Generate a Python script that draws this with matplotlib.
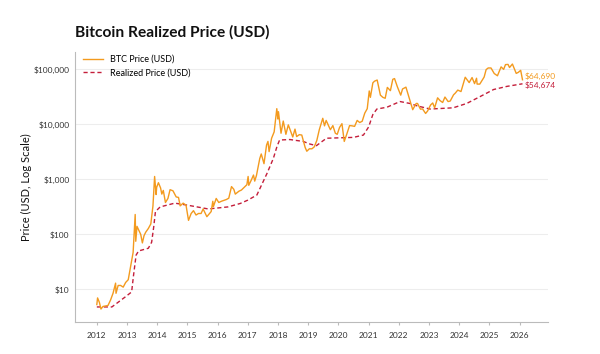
import pandas as pd
import matplotlib.pyplot as plt
import matplotlib.dates as mdates
from matplotlib.ticker import FuncFormatter

plt.rcParams['font.family'] = ['Lato', 'DejaVu Sans']

# BTC price (USD)
btc_dates = [
    '2012-01-01', '2012-01-10', '2012-02-01', '2012-02-20', '2012-03-15', '2012-04-15', '2012-05-15',
    '2012-06-15', '2012-07-15', '2012-08-15', '2012-08-20', '2012-09-15', '2012-10-15', '2012-11-15',
    '2012-12-15', '2013-01-15', '2013-02-15', '2013-03-15', '2013-04-09', '2013-04-16', '2013-05-01',
    '2013-05-20', '2013-06-15', '2013-07-05', '2013-07-25', '2013-08-15', '2013-09-15', '2013-10-15',
    '2013-11-10', '2013-11-30', '2013-12-18', '2013-12-25', '2014-01-15', '2014-02-10', '2014-02-25',
    '2014-03-15', '2014-04-10', '2014-05-10', '2014-06-05', '2014-07-10', '2014-08-18', '2014-09-15',
    '2014-10-05', '2014-11-10', '2014-12-15', '2015-01-14', '2015-02-15', '2015-03-15', '2015-04-15',
    '2015-05-15', '2015-06-15', '2015-07-10', '2015-08-24', '2015-09-15', '2015-10-15', '2015-11-04',
    '2015-11-11', '2015-12-15', '2016-01-15', '2016-02-15', '2016-03-15', '2016-04-15', '2016-05-15',
    '2016-06-17', '2016-07-15', '2016-08-02', '2016-09-15', '2016-10-15', '2016-11-15', '2016-12-20',
    '2017-01-04', '2017-01-12', '2017-02-15', '2017-03-10', '2017-03-25', '2017-04-15', '2017-05-25',
    '2017-06-12', '2017-07-15', '2017-08-15', '2017-09-01', '2017-09-15', '2017-10-15', '2017-11-15',
    '2017-12-17', '2017-12-30', '2018-01-06', '2018-02-06', '2018-03-05', '2018-04-06', '2018-05-05',
    '2018-06-28', '2018-07-25', '2018-08-14', '2018-09-15', '2018-10-15', '2018-11-25', '2018-12-15',
    '2019-01-15', '2019-02-15', '2019-03-15', '2019-04-15', '2019-05-15', '2019-06-26', '2019-07-17',
    '2019-08-06', '2019-09-26', '2019-10-26', '2019-11-25', '2019-12-18', '2020-01-15', '2020-02-13',
    '2020-03-12', '2020-04-15', '2020-05-15', '2020-06-15', '2020-07-15', '2020-08-15', '2020-09-15',
    '2020-10-15', '2020-11-15', '2020-12-15', '2021-01-08', '2021-01-22', '2021-02-21', '2021-03-13',
    '2021-04-14', '2021-05-23', '2021-06-22', '2021-07-20', '2021-08-15', '2021-09-21', '2021-10-20',
    '2021-11-10', '2021-12-15', '2022-01-24', '2022-02-15', '2022-03-28', '2022-05-12', '2022-06-18',
    '2022-07-30', '2022-08-15', '2022-09-20', '2022-10-15', '2022-11-21', '2022-12-15', '2023-01-20',
    '2023-02-15', '2023-03-10', '2023-04-15', '2023-05-15', '2023-06-15', '2023-07-13', '2023-08-20',
    '2023-09-15', '2023-10-25', '2023-11-15', '2023-12-15', '2024-01-23', '2024-02-15', '2024-03-14',
    '2024-05-01', '2024-06-05', '2024-07-05', '2024-07-29', '2024-08-05', '2024-09-06', '2024-10-29',
    '2024-11-22', '2024-12-17', '2025-01-20', '2025-02-28', '2025-04-08', '2025-05-22', '2025-06-22',
    '2025-07-14', '2025-08-14', '2025-09-01', '2025-10-06', '2025-11-21', '2025-12-15', '2026-01-14',
    '2026-02-05',
]
btc_price = [
    5.3, 7.0, 5.8, 4.4, 4.9, 5.0, 5.1,
    6.4, 8.5, 13.0, 8.5, 11.8, 11.8, 11.0,
    13.4, 15, 27, 47, 230, 75, 140,
    122, 100, 70, 95, 110, 128, 155,
    330, 1130, 530, 720, 870, 700, 540,
    630, 380, 450, 650, 620, 480, 470,
    330, 370, 340, 180, 240, 270, 225,
    240, 240, 290, 210, 230, 260, 400,
    320, 450, 380, 400, 415, 430, 455,
    740, 660, 540, 610, 640, 710, 800,
    1130, 780, 1000, 1200, 930, 1180, 2400,
    2900, 1930, 4200, 4900, 3200, 5600, 7300,
    19300, 12500, 17000, 6900, 11500, 6600, 9800,
    5900, 8200, 6000, 6500, 6400, 3800, 3250,
    3600, 3600, 3900, 5100, 8000, 12900, 9400,
    11800, 8000, 9500, 6900, 6600, 8800, 10300,
    4900, 6900, 9500, 9400, 9200, 11800, 10800,
    11400, 16000, 19300, 40500, 31000, 57000, 61000,
    64000, 34000, 31000, 29800, 47000, 41000, 66000,
    68000, 48000, 34000, 44000, 47500, 28500, 18500,
    24000, 24000, 18900, 19100, 15800, 17500, 22500,
    24500, 20000, 30400, 27000, 25000, 31400, 26000,
    26600, 34500, 37000, 42000, 39500, 52000, 72000,
    57500, 71000, 55000, 69000, 54000, 53900, 72500,
    99000, 106000, 106000, 84000, 76500, 111000, 100000,
    122000, 123000, 108000, 125000, 84500, 88000, 96000,
    64690,
]

# Realized price (USD)
rp_dates = [
    '2012-01-01', '2012-07-01', '2012-12-10', '2013-02-25', '2013-03-20', '2013-04-20', '2013-05-20',
    '2013-09-15', '2013-10-25', '2013-11-20', '2013-12-10', '2014-02-05', '2014-08-01', '2015-01-01',
    '2015-09-10', '2016-05-05', '2016-10-01', '2017-01-01', '2017-04-20', '2017-08-20', '2017-11-05',
    '2017-12-20', '2018-01-20', '2018-05-25', '2018-11-01', '2019-01-20', '2019-04-10', '2019-08-10',
    '2020-01-20', '2020-07-01', '2020-10-30', '2021-01-01', '2021-02-20', '2021-04-10', '2021-08-10',
    '2022-01-15', '2022-05-15', '2022-08-10', '2023-01-15', '2023-10-20', '2024-04-01', '2024-09-10',
    '2025-02-20', '2025-07-30', '2026-02-05',
]
rp_price = [
    4.8, 4.8, 7.3, 9.0, 18, 42, 50,
    56, 72, 140, 260, 316, 370, 340,
    290, 316, 365, 420, 520, 1280, 2400,
    4000, 5200, 5300, 4900, 4400, 4100, 5600,
    5700, 5800, 6400, 9000, 15000, 19000, 20500,
    26000, 24000, 21700, 19000, 20000, 24000, 32000,
    43000, 49000, 54674,
]

btc_color = '#F39A1E'
rp_color = '#C41E3A'

btc_x = pd.to_datetime(btc_dates)
rp_x = pd.to_datetime(rp_dates)

fig = plt.figure(figsize=(6, 3.54), dpi=100)
ax = fig.add_axes([0.125, 0.09, 0.788, 0.763])

ax.plot(btc_x, btc_price, color=btc_color, lw=1.0, label='BTC Price (USD)', zorder=3)
ax.plot(rp_x, rp_price, color=rp_color, lw=1.0, ls=(0, (3, 2)), label='Realized Price (USD)', zorder=2)

ax.set_yscale('log')
ax.set_ylim(10 ** 0.405, 10 ** 5.315)
ax.set_xlim(pd.Timestamp('2011-04-12'), pd.Timestamp('2026-12-08'))
ax.set_yticks([10, 100, 1000, 10000, 100000])
ax.yaxis.set_minor_locator(plt.NullLocator())
ax.yaxis.set_major_formatter(FuncFormatter(lambda v, p: f'${v:,.0f}'))

ax.xaxis.set_major_locator(mdates.YearLocator())
ax.xaxis.set_major_formatter(mdates.DateFormatter('%Y'))

ax.grid(axis='y', color='#EDEDED', lw=0.8)
ax.set_axisbelow(True)
for s in ['top', 'right']:
    ax.spines[s].set_visible(False)
for s in ['left', 'bottom']:
    ax.spines[s].set_color('#BBBBBB')
    ax.spines[s].set_linewidth(0.8)
ax.tick_params(axis='y', length=0, labelsize=6, colors='#333333', pad=4)
ax.tick_params(axis='x', length=2, labelsize=6, colors='#333333', color='#BBBBBB', pad=5)

ax.set_ylabel('Price (USD, Log Scale)', fontsize=8, color='#111111', labelpad=1)

ax.text(btc_x[-1] + pd.Timedelta(days=25), btc_price[-1] * 1.15, f'${btc_price[-1]:,}',
        color=btc_color, fontsize=6, va='center', ha='left')
ax.text(rp_x[-1] + pd.Timedelta(days=25), rp_price[-1] * 0.93, f'${rp_price[-1]:,}',
        color=rp_color, fontsize=6, va='center', ha='left')

ax.legend(loc='upper left', frameon=False, fontsize=6.5, handlelength=2.2,
          bbox_to_anchor=(0.0, 1.02), labelspacing=0.5)

fig.text(0.125, 0.91, 'Bitcoin Realized Price (USD)', fontsize=11.2, weight='bold',
         color='#111111', ha='left', va='center')

plt.savefig('out.png', dpi=100)
